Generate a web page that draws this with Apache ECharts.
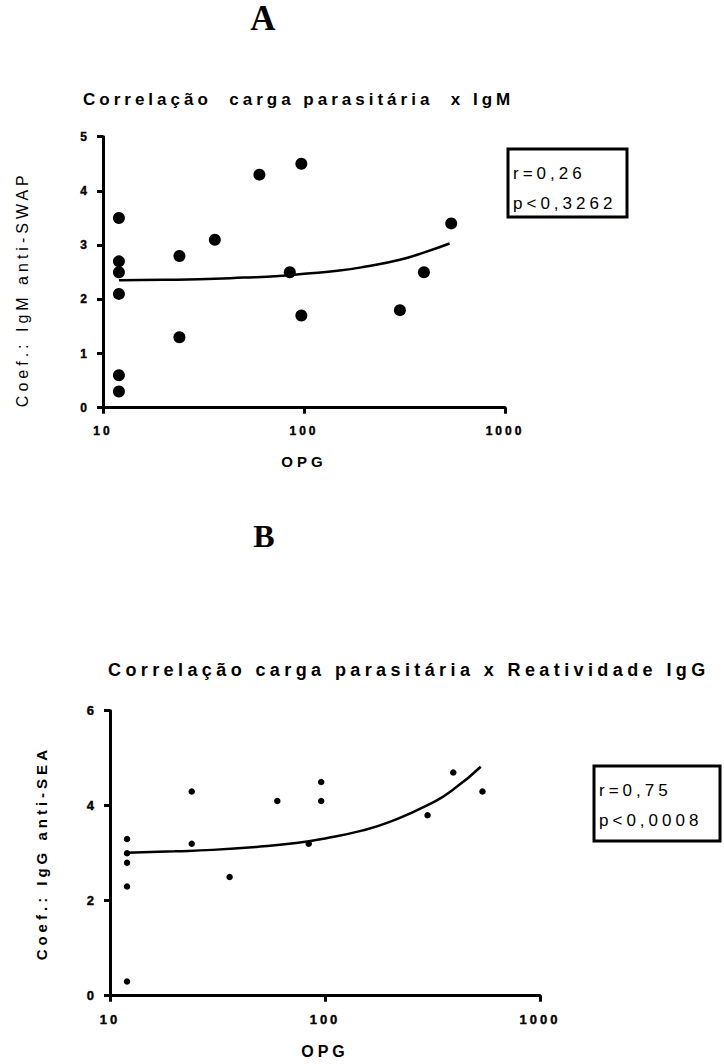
<!DOCTYPE html>
<html lang="pt">
<head>
<meta charset="UTF-8">
<title>Correlação carga parasitária</title>
<script src="https://cdn.jsdelivr.net/npm/echarts/dist/echarts.min.js"></script>
<style>
  body { margin: 0; background: #fff; }
  #chart { width: 724px; height: 1064px; }
  /* spaced lettering like the Prism export */
  #chart svg text { letter-spacing: 4px; white-space: pre; }
  #chart svg text[style*="18px"] { letter-spacing: 4.4px; }
  #chart svg text[style*="12px"], #chart svg text[style*="13px"] { letter-spacing: 3px; }
</style>
</head>
<body>
<div id="chart"></div>
<script>
const FONT = '"Liberation Sans", Arial, sans-serif';
const SERIF = '"Liberation Serif", "Times New Roman", serif';

// A: carga parasitaria (OPG) x IgM anti-SWAP
const opgA = [12, 12, 12, 12, 12, 12, 24, 24, 36, 60, 85, 97, 97, 300, 395, 540];
const igmA = [3.5, 2.7, 2.5, 2.1, 0.6, 0.3, 2.8, 1.3, 3.1, 4.3, 2.5, 4.5, 1.7, 1.8, 2.5, 3.4];
const fitOpgA = [12, 20, 30, 50, 75, 100, 150, 200, 300, 400, 530];
const fitIgmA = [2.35, 2.36, 2.37, 2.40, 2.43, 2.47, 2.53, 2.60, 2.73, 2.87, 3.03];

// B: carga parasitaria (OPG) x IgG anti-SEA
const opgB = [12, 12, 12, 12, 12, 24, 24, 36, 60, 84, 96, 96, 300, 395, 540];
const iggB = [3.3, 3.0, 2.8, 2.3, 0.3, 4.3, 3.2, 2.5, 4.1, 3.2, 4.5, 4.1, 3.8, 4.7, 4.3];
const fitOpgB = [12, 20, 30, 50, 75, 100, 150, 200, 300, 400, 530];
const fitIggB = [3.01, 3.04, 3.07, 3.14, 3.22, 3.31, 3.48, 3.66, 4.01, 4.36, 4.82];

const statsA = ['r=0,26', 'p<0,3262'];
const statsB = ['r=0,75', 'p<0,0008'];

const pairs = (xs, ys) => xs.map((x, i) => [x, ys[i]]);

// bold tick labels through rich text
function boldLabel(size, margin) {
  return {
    margin: margin,
    formatter: v => '{b|' + v + '}',
    rich: { b: { fontFamily: FONT, fontWeight: 'bold', fontSize: size, color: '#000',
                 textBorderColor: '#000', textBorderWidth: 0.4 } }
  };
}

function opgAxis(gridIndex, labelSize, nameSize, nameGap) {
  return {
    type: 'log', logBase: 10, min: 10, max: 1000, gridIndex: gridIndex,
    name: 'OPG', nameLocation: 'middle', nameGap: nameGap,
    nameTextStyle: { fontFamily: FONT, fontWeight: 'bold', fontSize: nameSize, color: '#000' },
    axisLine: { lineStyle: { color: '#000', width: 3 } },
    axisTick: { length: 6, lineStyle: { color: '#000', width: 3 } },
    minorTick: { show: false },
    axisLabel: boldLabel(labelSize, 17),
    splitLine: { show: false }
  };
}

function coefAxis(gridIndex, max, interval, name, bold, nameSize, nameGap, labelSize, pad) {
  return {
    type: 'value', min: 0, max: max, interval: interval, gridIndex: gridIndex,
    name: name, nameLocation: 'middle', nameGap: nameGap,
    nameTextStyle: { fontFamily: FONT, fontWeight: bold ? 'bold' : 'normal', fontSize: nameSize, color: '#000', padding: pad },
    axisLine: { show: true, lineStyle: { color: '#000', width: 3 } },
    axisTick: { show: true, length: 6, lineStyle: { color: '#000', width: 3 } },
    axisLabel: boldLabel(labelSize, 13),
    splitLine: { show: false }
  };
}

function statBox(x, y, w, h, lines) {
  return [
    { type: 'rect', shape: { x: x, y: y, width: w, height: h },
      style: { fill: '#fff', stroke: '#000', lineWidth: 3 } },
    { type: 'text', x: x + 5, y: y + 24,
      style: { text: lines[0], fontFamily: FONT, fontSize: 17, fill: '#000', verticalAlign: 'middle' } },
    { type: 'text', x: x + 5, y: y + 54,
      style: { text: lines[1], fontFamily: FONT, fontSize: 17, fill: '#000', verticalAlign: 'middle' } }
  ];
}

const chart = echarts.init(document.getElementById('chart'), null, { renderer: 'svg' });

chart.setOption({
  animation: false,
  backgroundColor: '#fff',
  title: [
    { text: 'Correlação  carga parasitária  x IgM', left: 83, top: 91, padding: 0,
      textStyle: { fontFamily: FONT, fontWeight: 'bold', fontSize: 17, color: '#000' } },
    { text: 'Correlação carga parasitária x Reatividade IgG', left: 108, top: 661, padding: 0,
      textStyle: { fontFamily: FONT, fontWeight: 'bold', fontSize: 18, color: '#000' } }
  ],
  grid: [
    { left: 103, top: 136.7, width: 402, height: 271 },
    { left: 110, top: 710.7, width: 430, height: 285 }
  ],
  xAxis: [
    opgAxis(0, 12, 15, 46),
    opgAxis(1, 13, 16, 48)
  ],
  yAxis: [
    coefAxis(0, 5, 1, 'Coef.: IgM anti-SWAP', false, 16, 73, 12, [0, 34, 0, 0]),
    coefAxis(1, 6, 2, 'Coef.: IgG anti-SEA', true, 15, 61, 13, 0)
  ],
  series: [
    { type: 'line', xAxisIndex: 0, yAxisIndex: 0, data: pairs(fitOpgA, fitIgmA),
      smooth: true, showSymbol: false, lineStyle: { color: '#000', width: 2.5 } },
    { type: 'scatter', xAxisIndex: 0, yAxisIndex: 0, data: pairs(opgA, igmA),
      symbolSize: 12, itemStyle: { color: '#000', opacity: 1 } },
    { type: 'line', xAxisIndex: 1, yAxisIndex: 1, data: pairs(fitOpgB, fitIggB),
      smooth: true, showSymbol: false, lineStyle: { color: '#000', width: 2.5 } },
    { type: 'scatter', xAxisIndex: 1, yAxisIndex: 1, data: pairs(opgB, iggB),
      symbolSize: 6.5, itemStyle: { color: '#000', opacity: 1 } }
  ],
  graphic: [
    { type: 'text', x: 265, y: 18,
      style: { text: 'A', fontFamily: SERIF, fontWeight: 'bold', fontSize: 35, fill: '#000', align: 'center', verticalAlign: 'middle' } },
    { type: 'text', x: 266, y: 536,
      style: { text: 'B', fontFamily: SERIF, fontWeight: 'bold', fontSize: 32, fill: '#000', align: 'center', verticalAlign: 'middle' } }
  ].concat(statBox(508, 149, 119, 68, statsA), statBox(594, 766, 126, 75, statsB))
});
</script>
</body>
</html>
